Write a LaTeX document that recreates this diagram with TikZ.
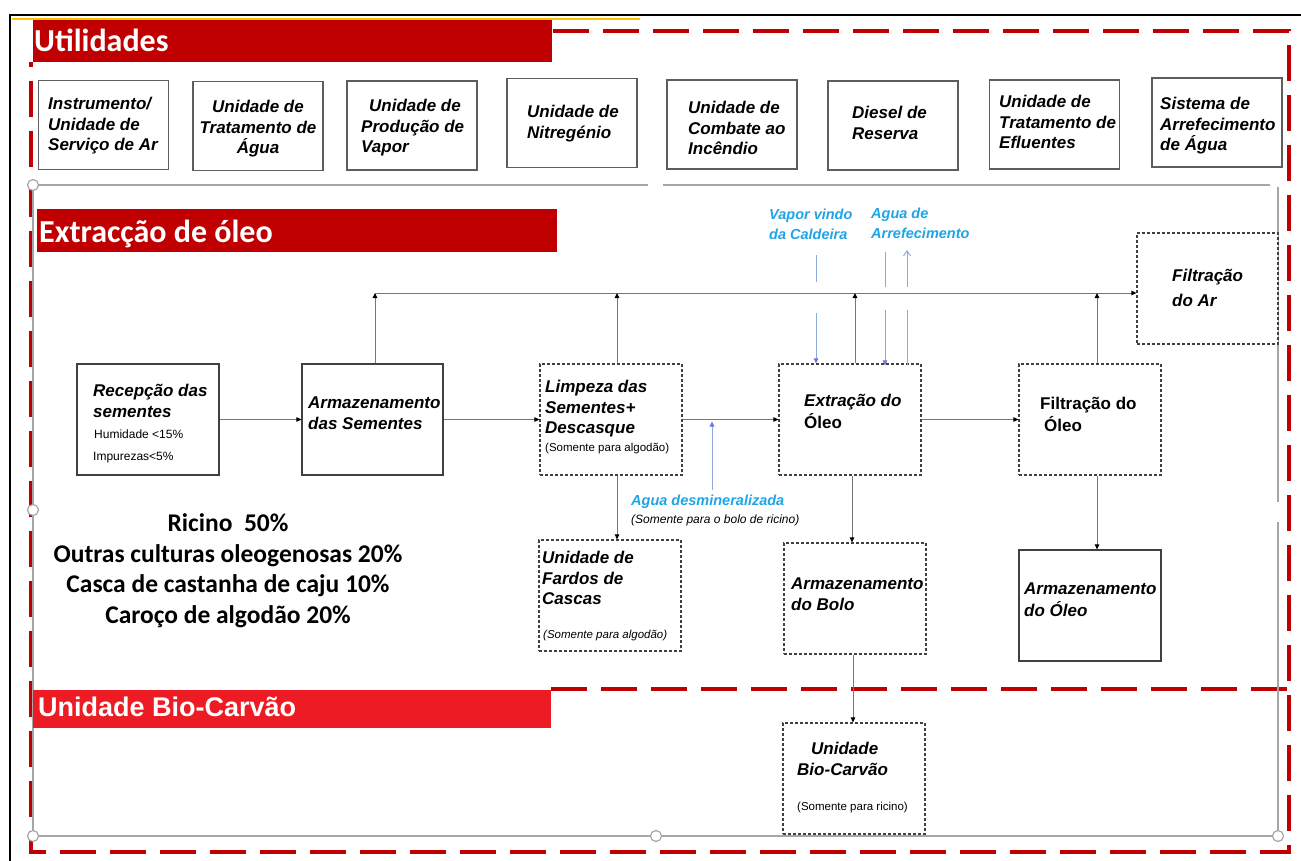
\documentclass[tikz,border=0pt]{standalone}
\usepackage{fontspec}
\setmainfont{Liberation Sans}
\newfontfamily\calfont{Carlito}
\usetikzlibrary{arrows.meta}
\definecolor{bannerred}{HTML}{C00000}
\definecolor{biored}{HTML}{ED1C24}
\definecolor{framered}{HTML}{C00000}
\definecolor{flowblue}{HTML}{1FA5E6}
\definecolor{lineblue}{HTML}{8EA9DB}
\definecolor{wire}{HTML}{777777}
\definecolor{boxgray}{HTML}{404040}
\definecolor{handlegray}{HTML}{A6A6A6}
\definecolor{gold}{HTML}{FFC000}

\begin{document}
\begin{tikzpicture}[x=1pt,y=-1pt,
  utilbox/.style={draw=boxgray!85, line width=1.1pt, fill=white, minimum width=130pt, minimum height=89pt, inner sep=0pt},
  solidbox/.style={draw=boxgray, line width=1.2pt, fill=white, minimum width=142pt, minimum height=111pt, inner sep=0pt},
  dashbox/.style={solidbox, dash pattern=on 3pt off 2pt},
  lbl/.style={anchor=north west, inner sep=0pt, align=left, font=\fontsize{17}{20.5}\selectfont\bfseries\itshape},
  lblup/.style={lbl, font=\fontsize{17}{20.5}\selectfont\bfseries},
  small/.style={anchor=north west, inner sep=0pt, font=\fontsize{12}{14}\selectfont},
  smallit/.style={small, font=\fontsize{12}{14}\selectfont\itshape},
  bluelbl/.style={anchor=north west, inner sep=0pt, align=left, text=flowblue, font=\fontsize{14.5}{20}\selectfont\bfseries\itshape},
  bannertxt/.style={anchor=base west, inner sep=0pt, text=white, font=\calfont\bfseries\fontsize{32}{38}\selectfont},
  handle/.style={circle, draw=handlegray, fill=white, line width=1.2pt, minimum size=11pt, inner sep=0pt},
  framegray/.style={draw=handlegray, line width=1.1pt},
  reddash/.style={draw=framered, line width=4.5pt, dash pattern=on 36pt off 14pt},
  wireline/.style={draw=wire, line width=1pt},
  arr/.style={-{Triangle[length=5pt,width=4.5pt,color=black]}},
  blueline/.style={draw=lineblue, line width=1pt},
  bluearr/.style={-{Triangle[length=5pt,width=4.5pt,color=lineblue!70!blue]}}
]
\useasboundingbox (0,0) rectangle (1301,861);
\fill[white] (0,0) rectangle (1301,861);

% outer page edge
\draw[black, line width=2pt] (10,861) -- (10,15) -- (1301,15);
\draw[gold, line width=2pt] (12,19) -- (640,19);

% red dashed section frame
\draw[reddash] (553,31) -- (1289,31) -- (1289,852) -- (31,852) -- (31,62);
\draw[reddash] (551,689) -- (1289,689);

% grey group frame with its handles
\coordinate (hp1) at (33,185);
\coordinate (hp2) at (33,510);
\coordinate (hp3) at (33,836);
\coordinate (hp4) at (656,836);
\coordinate (hp5) at (1278,836);
\coordinate (gapA) at (648,185);
\coordinate (gapB) at (663,185);
\coordinate (topR) at (1270,185);
\coordinate (rgtT) at (1278,187);
\coordinate (rgtA) at (1278,502);
\coordinate (rgtB) at (1278,522);
\draw[framegray] (hp1) -- (gapA);
\draw[framegray] (gapB) -- (topR);
\draw[framegray] (hp1) -- (hp2) -- (hp3) -- (hp4) -- (hp5);
\draw[framegray] (rgtT) -- (rgtA);
\draw[framegray] (rgtB) -- (hp5);
\node[handle] (h1) at (hp1) {};
\node[handle] (h2) at (hp2) {};
\node[handle] (h3) at (hp3) {};
\node[handle] (h4) at (hp4) {};
\node[handle] (h5) at (hp5) {};

% section banners
\fill[bannerred] (33,20) rectangle (552,62);
\node[bannertxt] (utilt) at (34,52) {Utilidades};
\fill[bannerred] (37,209) rectangle (557,252);
\node[bannertxt] (oilt) at (39,242) {Extracção de óleo};
\fill[biored] (33,690) rectangle (551,728);
\node[anchor=base west, inner sep=0pt, text=white, font=\fontsize{27}{32}\selectfont\bfseries] (biobt) at (38,716.5) {Unidade Bio-Carvão};

% utilities row
\node[utilbox] (u1) at (103.5,125) {};
\node[utilbox] (u2) at (258,126) {};
\node[utilbox] (u3) at (412,125.5) {};
\node[utilbox] (u4) at (572,123) {};
\node[utilbox] (u5) at (732,124.5) {};
\node[utilbox] (u6) at (893,125.5) {};
\node[utilbox] (u7) at (1054.5,124.5) {};
\node[utilbox] (u8) at (1217,122.5) {};
\node[lbl] (u1t) at (48,95) {\strut Instrumento/\\Unidade de\\Serviço de Ar};
\node[lbl, anchor=north, align=center] (u2t) at (258,98) {\strut Unidade de\\Tratamento de\\Água};
\node[lbl] (u3t) at (361,97) {\strut\hspace{8pt}Unidade de\\Produção de\\Vapor};
\node[lbl] (u4t) at (527,103) {\strut Unidade de\\Nitregénio};
\node[lbl] (u5t) at (688,99) {\strut Unidade de\\Combate ao\\Incêndio};
\node[lbl] (u6t) at (852,104) {\strut Diesel de\\Reserva};
\node[lbl] (u7t) at (999,93) {\strut Unidade de\\Tratamento de\\Efluentes};
\node[lbl] (u8t) at (1160,95) {\strut Sistema de\\Arrefecimento\\de Água};

% process boxes
\node[solidbox] (rec) at (148,419.5) {};
\node[solidbox, minimum width=141pt] (arm) at (372.5,419.5) {};
\node[dashbox] (lim) at (611,419.5) {};
\node[dashbox] (ext) at (850,419.5) {};
\node[dashbox] (fo) at (1090,419.5) {};
\node[dashbox, minimum width=141pt] (fa) at (1207.5,288.5) {};
\node[dashbox] (fc) at (610,595.5) {};
\node[dashbox] (bolo) at (855,598.5) {};
\node[solidbox] (ao) at (1090,605.5) {};
\node[dashbox] (bio) at (854,778.5) {};

\node[lbl] (rect) at (93,382) {\strut Recepção das\\sementes};
\node[small] (rech) at (94,428.5) {\strut Humidade <15\%};
\node[small] (reci) at (93,450.5) {\strut Impurezas<5\%};
\node[lbl] (armt) at (308,394) {\strut Armazenamento\\das Sementes};
\node[lbl] (limt) at (545,378) {\strut Limpeza das\\Sementes+\\Descasque};
\node[small, font=\fontsize{11.5}{14}\selectfont] (limn) at (545,441.5) {\strut(Somente para algodão)};
\node[lbl] (extt) at (804,392) {\strut Extração do\\\upshape Óleo};
\node[lblup] (fot) at (1040,395) {\strut Filtração do\\\hspace{4pt}Óleo};
\node[lbl, font=\fontsize{17}{25}\selectfont\bfseries\itshape] (fat) at (1172,263.6) {\strut Filtração\\do Ar};
\node[lbl] (fct) at (542,549) {\strut Unidade de\\Fardos de\\Cascas};
\node[smallit, font=\fontsize{11.5}{14}\selectfont\itshape] (fcn) at (543,628.5) {\strut(Somente para algodão)};
\node[lbl] (bolot) at (791,575) {\strut Armazenamento\\do Bolo};
\node[lbl] (aot) at (1024,580) {\strut Armazenamento\\do Óleo};
\node[lbl] (biot) at (797,740) {\strut\hspace{14pt}Unidade\\Bio-Carvão};
\node[small, font=\fontsize{11.5}{14}\selectfont] (bion) at (797,800.5) {\strut(Somente para ricino)};

% feedstock mix
\node[anchor=north, inner sep=0pt, align=center, font=\calfont\bfseries\fontsize{25.5}{30.5}\selectfont] (mix) at (228,510)
  {\strut Ricino\ \ 50\%\\Outras culturas oleogenosas 20\%\\Casca de castanha de caju 10\%\\Caroço de algodão 20\%};

% utility streams
\node[bluelbl] (vapt) at (769,205) {\strut Vapor vindo\\da Caldeira};
\node[bluelbl] (arrt) at (871,204) {\strut Agua de\\Arrefecimento};
\node[bluelbl] (dest) at (631,491) {\strut Agua desmineralizada};
\node[smallit] (desn) at (631,513.5) {\strut(Somente para o bolo de ricino)};

% main flow
\draw[wireline, arr] (rec.east) -- (arm.west);
\draw[wireline, arr] (arm.east) -- (lim.west);
\draw[wireline, arr] (lim.east) -- (ext.west);
\draw[wireline, arr] (ext.east) -- (fo.west);

% air collection header to air filtration
\coordinate (busL) at (375,293);
\draw[wireline, arr] (busL) -- (busL -| fa.west);
\draw[wireline, arr] ([xshift=2.5pt]arm.north) -- ([xshift=2.5pt]arm.north |- busL);
\draw[wireline, arr] ([xshift=6pt]lim.north) -- ([xshift=6pt]lim.north |- busL);
\draw[wireline, arr] ([xshift=5pt]ext.north) -- ([xshift=5pt]ext.north |- busL);
\draw[wireline, arr] ([xshift=7pt]fo.north) -- ([xshift=7pt]fo.north |- busL);

% downward flows
\draw[wireline, arr] ([xshift=6pt]lim.south) -- ([xshift=6pt]lim.south |- fc.north);
\draw[wireline, arr] ([xshift=2pt]ext.south) -- ([xshift=2pt]ext.south |- bolo.north);
\draw[wireline, arr] ([xshift=7pt]fo.south) -- ([xshift=7pt]fo.south |- ao.north);
\draw[wireline, arr] ([xshift=-2pt]bolo.south) -- ([xshift=-2pt]bolo.south |- bio.north);

% steam and cooling water lines
\coordinate (vapA) at (816,255);
\coordinate (vapB) at (816,282);
\coordinate (vapC) at (816,313);
\draw[blueline] (vapA) -- (vapB);
\draw[blueline, bluearr] (vapC) -- (vapC |- ext.north);
\coordinate (cwA) at (885,252);
\coordinate (cwB) at (885,287);
\coordinate (cwC) at (885,310);
\draw[blueline] (cwA) -- (cwB);
\draw[blueline, bluearr] (cwC) -- ([yshift=-2pt]cwC |- ext.north);
\coordinate (crA) at (907,287);
\coordinate (crB) at (907,250);
\coordinate (crC) at (907,310);
\draw[blueline] ([yshift=-2pt]crC |- ext.north) -- (crC);
\draw[blueline, -{Straight Barb[length=5pt,width=7pt]}] (crA) -- (crB);
\coordinate (desFoot) at (712,490);
\draw[blueline, bluearr] (desFoot) -- ([yshift=-2pt]desFoot |- lim.east);
\end{tikzpicture}
\end{document}
